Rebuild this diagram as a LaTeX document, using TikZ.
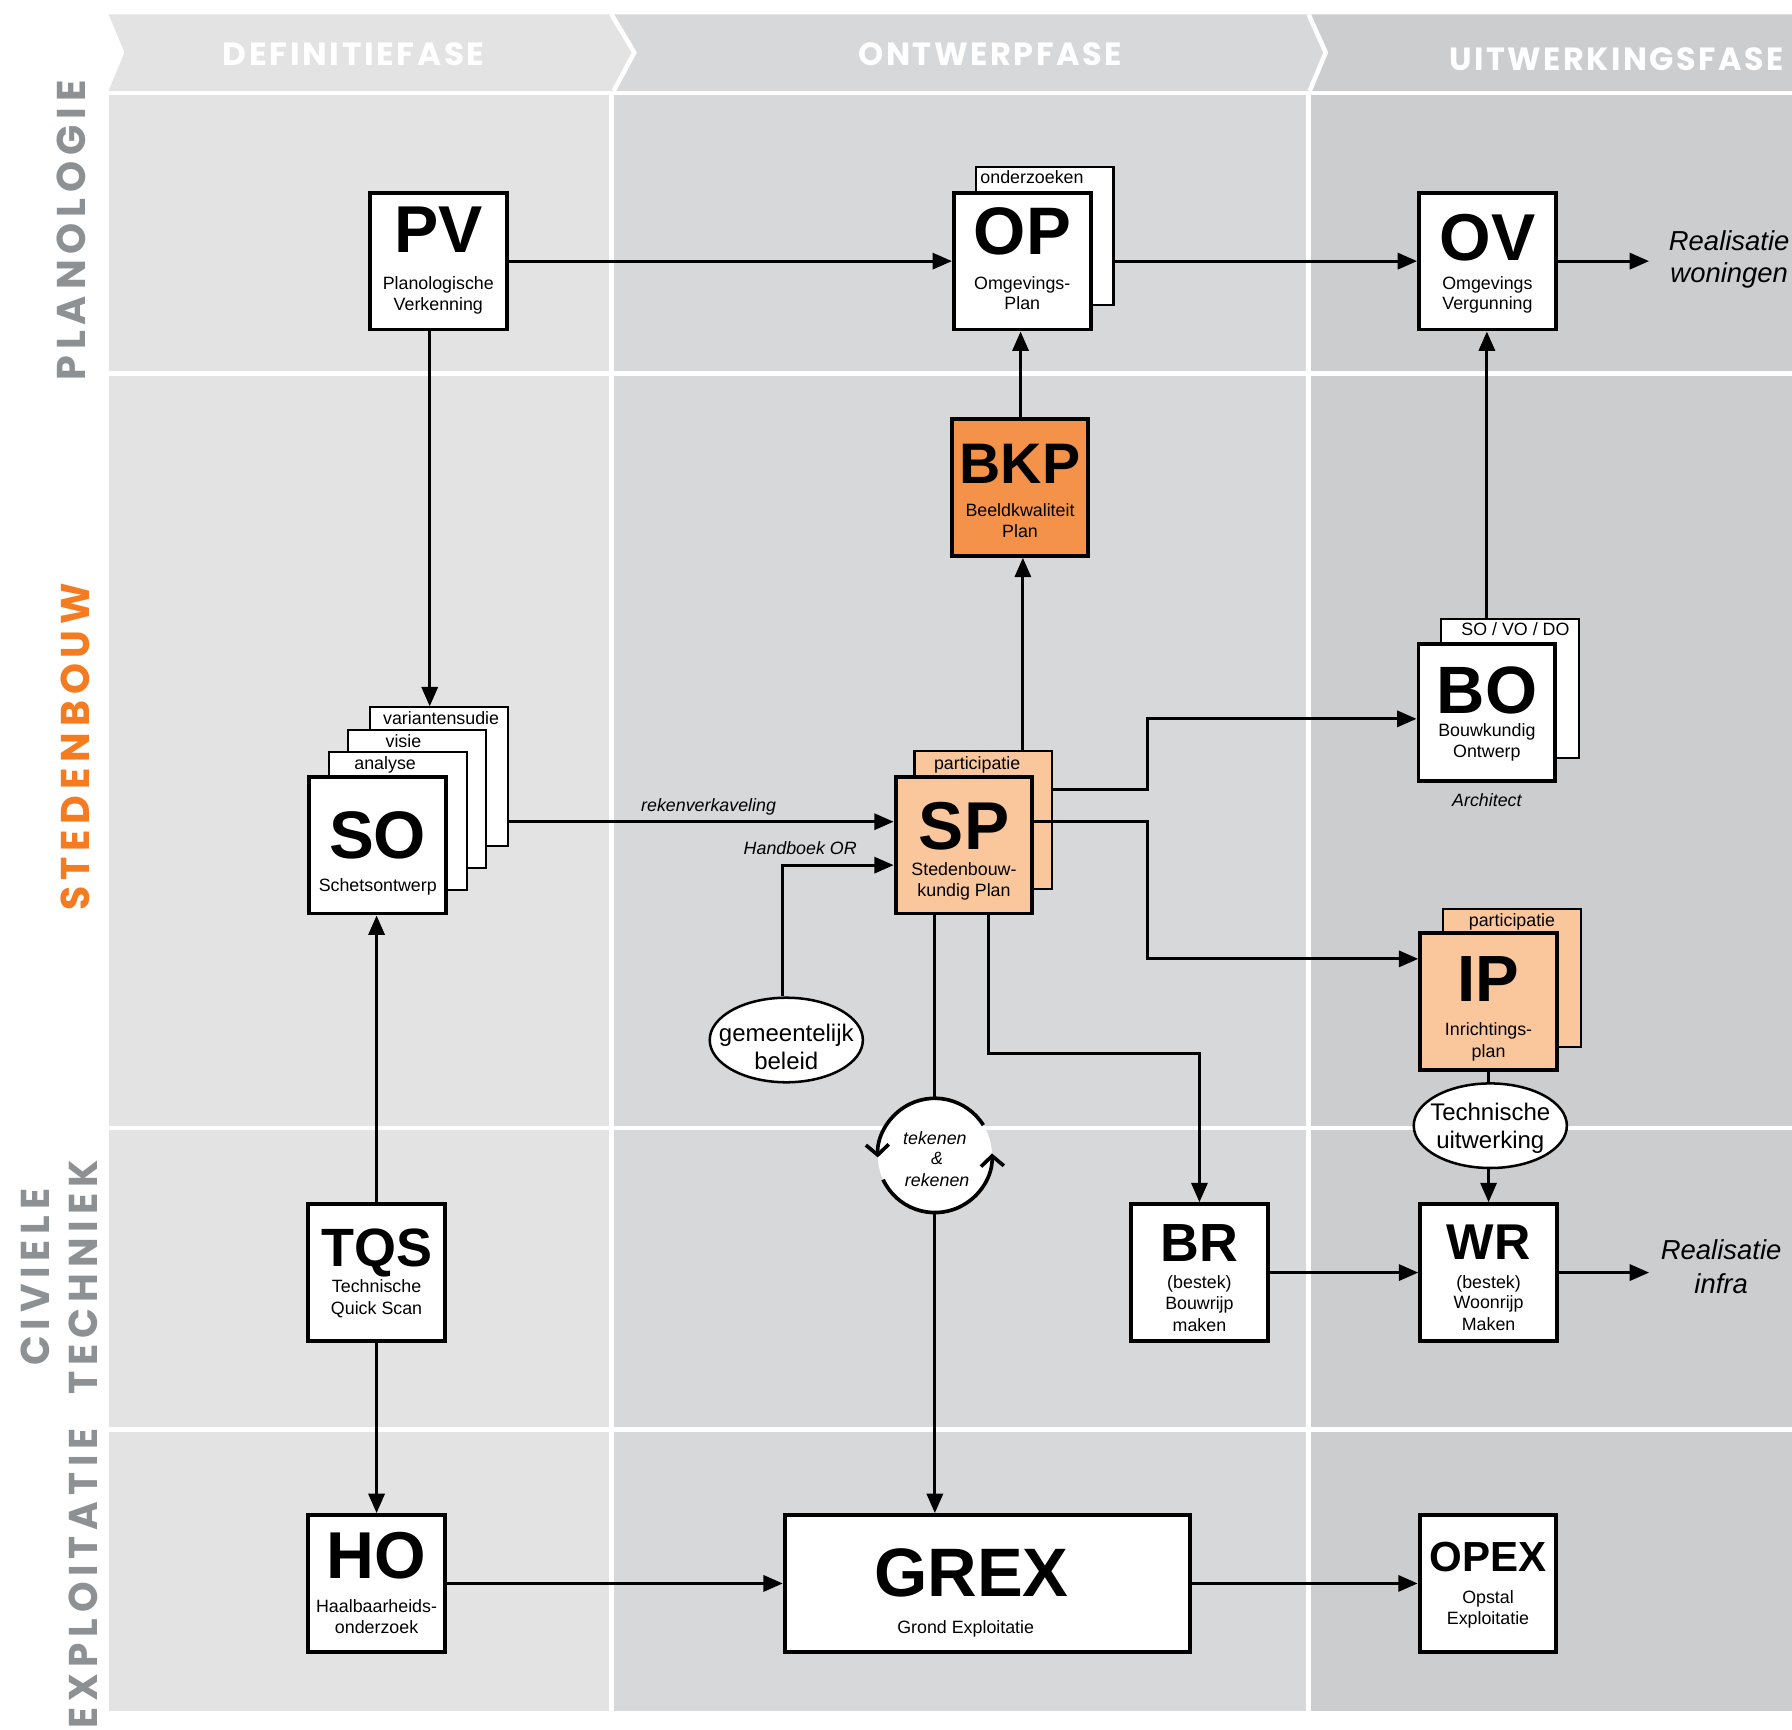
\documentclass[tikz,border=0pt]{standalone}
\usepackage{fontspec}
\setmainfont{Liberation Sans}
\newfontfamily\lblfont{Poppins}[LetterSpace=15]
\newfontfamily\hdrfont{Poppins}[LetterSpace=8]
\usetikzlibrary{arrows.meta,shapes.geometric}
\definecolor{cA}{HTML}{E3E3E3}
\definecolor{cB}{HTML}{D7D8DA}
\definecolor{cC}{HTML}{CCCDCF}
\definecolor{lblgray}{HTML}{8E9194}
\definecolor{lblorange}{HTML}{F47B20}
\definecolor{orA}{HTML}{F4924A}
\definecolor{orB}{HTML}{FAC69C}
\begin{document}
\begin{tikzpicture}[x=0.5pt,y=-0.5pt,
 box/.style={draw,line width=1.7pt,minimum width=59.8pt,minimum height=59.8pt,inner sep=0pt,fill=white},
 sheet/.style={draw,line width=0.9pt,minimum width=60.3pt,minimum height=60.5pt,inner sep=0pt,fill=white},
 ttl/.style={font=\bfseries\fontsize{#1}{#1}\selectfont,anchor=base,inner sep=0pt},
 sub/.style={font=\fontsize{7.8}{9}\selectfont,anchor=base,inner sep=0pt},
 itl/.style={font=\itshape\fontsize{7.8}{9}\selectfont,anchor=base,inner sep=0pt},
 real/.style={font=\itshape\fontsize{12}{14}\selectfont,anchor=base,inner sep=0pt},
 elltxt/.style={font=\fontsize{10.5}{12}\selectfont,anchor=base,inner sep=0pt},
 arr/.style={line width=1.4pt,-{Triangle[length=8.5pt,width=7pt]}},
 ln/.style={line width=1.4pt},
 ell/.style={ellipse,draw,line width=1.1pt,fill=white,minimum width=67pt,minimum height=37pt,inner sep=0pt},
 hdr/.style={text=white,inner sep=0pt},
 rowlbl/.style={rotate=90,inner sep=0pt},
]
\useasboundingbox (0,0) rectangle (1568,1513);
\fill[white] (0,0) rectangle (1568,1513);
% body columns
\fill[cA] (95,83) rectangle (533,1497);
\fill[cB] (537,83) rectangle (1143,1497);
\fill[cC] (1147,83) rectangle (1568,1497);
\foreach \yy in {327,987,1251} \draw[white,line width=2pt] (95,\yy) -- (1568,\yy);
% header chevrons
\fill[cA] (95,12.5) -- (535,12.5) -- (555,46) -- (537,79.5) -- (95,79.5) -- (109,46) -- cycle;
\fill[cB] (535,12.5) -- (1145,12.5) -- (1160,46) -- (1146,79.5) -- (537,79.5) -- (555,46) -- cycle;
\fill[cC] (1145,12.5) -- (1568,12.5) -- (1568,79.5) -- (1146,79.5) -- (1160,46) -- cycle;
\draw[white,line width=2pt] (535,12.5) -- (555,46) -- (537,79.5);
\draw[white,line width=2pt] (1145,12.5) -- (1160,46) -- (1146,79.5);
\node[hdr] (h1) at (309.5,47) {\resizebox{114.5pt}{10pt}{\hdrfont\bfseries DEFINITIEFASE}};
\node[hdr] (h2) at (866.5,47) {\resizebox{115.5pt}{10pt}{\hdrfont\bfseries ONTWERPFASE}};
\node[hdr] (h3) at (1414.5,52) {\resizebox{146.5pt}{10pt}{\hdrfont\bfseries UITWERKINGSFASE}};
% row labels
\node[rowlbl,text=lblgray] (r1) at (62.5,201.5) {\resizebox{131.5pt}{12.5pt}{\lblfont\bfseries PLANOLOGIE}};
\node[rowlbl,text=lblorange] (r2) at (65.5,653.5) {\resizebox{143.5pt}{12.5pt}{\lblfont\bfseries STEDENBOUW}};
\node[rowlbl,text=lblgray] (r3) at (30.5,1117.5) {\resizebox{77.5pt}{12.5pt}{\lblfont\bfseries CIVIELE}};
\node[rowlbl,text=lblgray] (r4) at (72.5,1117.5) {\resizebox{102.5pt}{12.5pt}{\lblfont\bfseries TECHNIEK}};
\node[rowlbl,text=lblgray] (r5) at (72.5,1381) {\resizebox{131pt}{12.5pt}{\lblfont\bfseries EXPLOITATIE}};

% ---- boxes ----
% PV
\node[box] (PV) at (383.5,228.5) {};
\node[ttl=29] (PVt) at (383.5,221) {PV};
\node[sub] (PVs1) at (383.5,253) {Planologische};
\node[sub] (PVs2) at (383.5,272) {Verkenning};
% OP
\node[sheet] (OPsh) at (914,206.5) {};
\node[sub] (OPshl) at (903,161) {onderzoeken};
\node[box] (OP) at (894.5,228.5) {};
\node[ttl=29.4] (OPt) at (894.5,223) {OP};
\node[sub] (OPs1) at (894.5,253) {Omgevings-};
\node[sub] (OPs2) at (894.5,271) {Plan};
% OV
\node[box] (OV) at (1301.5,228.5) {};
\node[ttl=29] (OVt) at (1301.5,227.8) {OV};
\node[sub] (OVs1) at (1301.5,253) {Omgevings};
\node[sub] (OVs2) at (1301.5,271) {Vergunning};
\node[real] (rw1) at (1513,219) {Realisatie};
\node[real] (rw2) at (1513,247) {woningen};
\coordinate (rw) at (1443,228.5);
% BKP
\node[box,fill=orA] (BKP) at (892.5,426.5) {};
\node[ttl=25] (BKPt) at (892.5,423) {BKP};
\node[sub] (BKPs1) at (892.5,452) {Beeldkwaliteit};
\node[sub] (BKPs2) at (892.5,470) {Plan};
% SO stack
\node[sheet] (vsh) at (384,679.5) {};
\node[sub] (vshl) at (386,634) {variantensudie};
\node[sheet] (vish) at (365,699) {};
\node[sub] (vishl) at (353,654) {visie};
\node[sheet] (ansh) at (348,718.5) {};
\node[sub] (anshl) at (337,673) {analyse};
\node[box] (SO) at (330.5,739.5) {};
\node[ttl=29.4] (SOt) at (330.5,751) {SO};
\node[sub] (SOs1) at (330.5,780) {Schetsontwerp};
% SP
\node[sheet,fill=orB] (spsh) at (860.5,717.5) {};
\node[sub] (spshl) at (855,673) {participatie};
\node[box,fill=orB] (SP) at (843.5,739.5) {};
\node[ttl=29.6] (SPt) at (843.5,743.2) {SP};
\node[sub] (SPs1) at (843.5,766) {Stedenbouw-};
\node[sub] (SPs2) at (843.5,784) {kundig Plan};
% BO
\node[sheet] (bosh) at (1321.5,602.5) {};
\node[sub] (boshl) at (1326,556) {SO / VO / DO};
\node[box] (BO) at (1301,623.5) {};
\node[ttl=29.3] (BOt) at (1301,624) {BO};
\node[sub] (BOs1) at (1301,644) {Bouwkundig};
\node[sub] (BOs2) at (1301,663) {Ontwerp};
\node[itl] (arch) at (1301,706) {Architect};
% IP
\node[sheet,fill=orB] (ipsh) at (1323,856) {};
\node[sub] (ipshl) at (1323,811) {participatie};
\node[box,fill=orB] (IP) at (1302.5,876.5) {};
\node[ttl=28.6] (IPt) at (1302.5,876.5) {IP};
\node[sub] (IPs1) at (1302.5,906) {Inrichtings-};
\node[sub] (IPs2) at (1302.5,925) {plan};
% ellipses
\node[ell] (gb) at (688,910) {};
\node[elltxt] (gb1) at (688,911) {gemeentelijk};
\node[elltxt] (gb2) at (688,936) {beleid};
\node[ell] (tu) at (1304,985) {};
\node[elltxt] (tu1) at (1304,980) {Technische};
\node[elltxt] (tu2) at (1304,1005) {uitwerking};
% TQS
\node[box] (TQS) at (329.5,1113.5) {};
\node[ttl=23.6] (TQSt) at (329.5,1108) {TQS};
\node[sub] (TQSs1) at (329.5,1131) {Technische};
\node[sub] (TQSs2) at (329.5,1150) {Quick Scan};
% BR
\node[box] (BR) at (1049.5,1113.5) {};
\node[ttl=23.5] (BRt) at (1049.5,1104) {BR};
\node[sub] (BRs1) at (1049.5,1127) {(bestek)};
\node[sub] (BRs2) at (1049.5,1146) {Bouwrijp};
\node[sub] (BRs3) at (1049.5,1165) {maken};
% WR
\node[box] (WR) at (1302.5,1113.5) {};
\node[ttl=22] (WRt) at (1302.5,1102) {WR};
\node[sub] (WRs1) at (1302.5,1127) {(bestek)};
\node[sub] (WRs2) at (1302.5,1145) {Woonrijp};
\node[sub] (WRs3) at (1302.5,1164) {Maken};
\node[real] (ri1) at (1506,1102) {Realisatie};
\node[real] (ri2) at (1506,1132) {infra};
\coordinate (ri) at (1443,1113.5);
% HO
\node[box] (HO) at (329.5,1385.5) {};
\node[ttl=29] (HOt) at (329.5,1381) {HO};
\node[sub] (HOs1) at (329.5,1411) {Haalbaarheids-};
\node[sub] (HOs2) at (329.5,1429) {onderzoek};
% GREX
\node[box,minimum width=177.3pt] (GREX) at (864,1385.5) {};
\node[ttl=30] (GREXt) at (850,1396.5) {GREX};
\node[sub] (GREXs1) at (845,1429) {Grond Exploitatie};
% OPEX
\node[box] (OPEX) at (1302,1385.5) {};
\node[ttl=18.4] (OPEXt) at (1302,1375.2) {OPEX};
\node[sub] (OPEXs1) at (1302,1403) {Opstal};
\node[sub] (OPEXs2) at (1302,1421) {Exploitatie};

% tekenen & rekenen circle
\node[circle,fill=white,minimum size=50pt,inner sep=0pt] (tr) at (818,1011) {};
\draw[line width=1.6pt,-{Straight Barb[length=4.5pt,width=10pt]}] ([shift={(32:25pt)}]tr.center) arc[start angle=32,end angle=182,radius=25pt];
\draw[line width=1.6pt,-{Straight Barb[length=4.5pt,width=10pt]}] ([shift={(205:25pt)}]tr.center) arc[start angle=205,end angle=362,radius=25pt];
\node[itl] (tr1) at (818,1001) {tekenen};
\node[itl] (tr2) at (820,1019) {\&};
\node[itl] (tr3) at (820,1038) {rekenen};

% ---- connectors ----
\draw[arr] (PV.east) -- (OP.west);
\draw[arr] (OPsh.east |- OV.west) -- (OV.west);
\draw[arr] (OV.east) -- (rw);
\draw[arr] (PV.south -| 376,0) -- (vsh.north -| 376,0);
\draw[arr] (vsh.east |- 0,719) -- (SP.west |- 0,719);
\node[itl] (rk) at (620,710) {rekenverkaveling};
\node[itl,anchor=base east] (hb) at (750,748) {Handboek OR};
\draw[arr] (gb.north -| 685,0) |- (SP.west |- 0,757);
\draw[arr] (spsh.north -| 895,0) -- (BKP.south -| 895,0);
\draw[arr] (BKP.north -| 893,0) -- (OP.south -| 893,0);
\draw[arr] (spsh.east |- 0,691) -- (1004,691) |- (BO.west |- 0,629);
\draw[arr] (SP.east |- 0,719) -- (1004,719) |- (IP.west |- 0,839);
\draw[arr] (bosh.north -| BO.north) -- (OV.south -| BO.north);
\draw[ln] (IP.south) -- (tu.north -| IP.south);
\draw[arr] (tu.south -| WR.north) -- (WR.north);
\draw[ln] (SP.south -| tr.north) -- (tr.north);
\draw[arr] (tr.south) -- (GREX.north -| tr.south);
\draw[arr] (SP.south -| 865,0) |- (BR.north |- 0,922) -- (BR.north);
\draw[arr] (BR.east) -- (WR.west);
\draw[arr] (WR.east) -- (ri);
\draw[arr] (TQS.north) -- (SO.south -| TQS.north);
\draw[arr] (TQS.south) -- (HO.north);
\draw[arr] (HO.east) -- (GREX.west |- HO.east);
\draw[arr] (GREX.east) -- (OPEX.west);
\end{tikzpicture}
\end{document}
